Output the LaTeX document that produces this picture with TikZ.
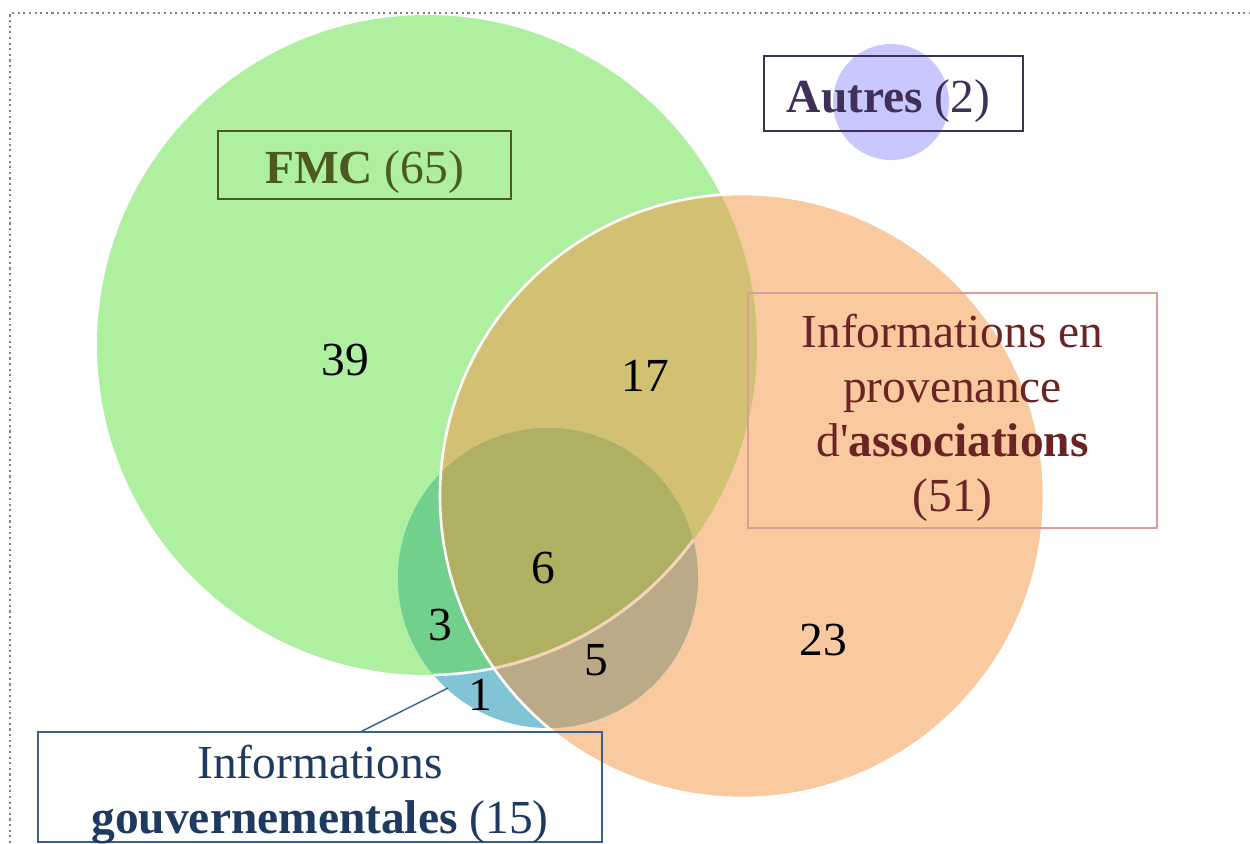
\documentclass[tikz,border=0pt]{standalone}
\usepackage{fontspec}
\setmainfont{Liberation Serif}
\usetikzlibrary{positioning}

\definecolor{fmcfill}{HTML}{AFEFA0}
\definecolor{assofill}{HTML}{F9C9A0}
\definecolor{govfill}{HTML}{80C4D6}
\definecolor{fmcasso}{HTML}{D2C172}
\definecolor{fmcgov}{HTML}{70D08C}
\definecolor{assogov}{HTML}{BBAA88}
\definecolor{allthree}{HTML}{B0B062}
\definecolor{peach}{HTML}{F8D2B4}
\definecolor{autrefill}{HTML}{C8C8FF}
\definecolor{fmctext}{HTML}{4A5A22}
\definecolor{autretext}{HTML}{3F3058}
\definecolor{assotext}{HTML}{6B2424}
\definecolor{assoline}{HTML}{DC9C9C}
\definecolor{govtext}{HTML}{1F3A60}
\definecolor{govline}{HTML}{3A6090}

\begin{document}
\begin{tikzpicture}[x=0.02cm,y=-0.02cm,
    num/.style={font=\fontsize{27}{31}\selectfont},
    lblbox/.style={draw,line width=1pt,inner sep=0pt},
    lbltext/.style={align=center,inner sep=0pt,font=\fontsize{27}{31}\selectfont}]
            \useasboundingbox (0,0) rectangle (1250,843);
            \draw[gray,dotted,line width=1.2pt] (10,843) -- (10,13) -- (1250,13);

            \coordinate (fmc) at (427,345);
            \coordinate (asso) at (742,496);
            \coordinate (gov) at (548,578);
            \coordinate (autre) at (891,102);

            % les ensembles
            \fill[fmcfill] (fmc) circle (330);
            \fill[assofill] (asso) circle (302);
            \fill[govfill] (gov) circle (150);
            \begin{scope}
                \clip (fmc) circle (330);
                \fill[fmcasso] (asso) circle (302);
                \fill[fmcgov] (gov) circle (150);
            \end{scope}
            \begin{scope}
                \clip (asso) circle (302);
                \fill[assogov] (gov) circle (150);
                \clip (fmc) circle (330);
                \fill[allthree] (gov) circle (150);
            \end{scope}
            \begin{scope}
                \clip (gov) circle (150);
                \draw[white,line width=1.5pt] (fmc) circle (330);
                \clip (asso) circle (302);
                \draw[peach,line width=1.5pt] (fmc) circle (330);
            \end{scope}
            \draw[white,line width=1.5pt] (asso) circle (302);
            \fill[autrefill] (autre) circle (58);

            % effectifs
            \node[num] (n39) at (345,360) {39};
            \node[num] (n17) at (645,376) {17};
            \node[num] (n6) at (543,568) {6};
            \node[num] (n3) at (440,625) {3};
            \node[num] (n5) at (596,660) {5};
            \node[num] (n1) at (480,695) {1};
            \node[num] (n23) at (823,640) {23};

            % etiquettes
            \node[lblbox,draw=fmctext,minimum width=5.86cm,minimum height=1.36cm] (fmcbox) at (364.5,165) {};
            \node[lbltext,text=fmctext] (fmclbl) at ([yshift=-0.15cm]fmcbox.center) {\textbf{FMC} (65)};

            \node[lblbox,draw=autretext,minimum width=5.18cm,minimum height=1.5cm] (autrebox) at (893.5,93.5) {};
            \node[lbltext,text=autretext] (autrelbl) at ([xshift=-0.1cm,yshift=-0.15cm]autrebox.center) {\textbf{Autres} (2)};

            \node[lblbox,draw=assoline,minimum width=8.18cm,minimum height=4.7cm] (assobox) at (952.5,410.5) {};
            \node[lbltext,text=assotext] (assolbl) at ([yshift=-0.15cm]assobox.center)
                {Informations en\\provenance\\d\textquotesingle\textbf{associations}\\(51)};

            \node[lblbox,draw=govline,minimum width=11.28cm,minimum height=2.2cm] (govbox) at (320,787) {};
            \node[lbltext,text=govtext] (govlbl) at ([yshift=-0.15cm]govbox.center)
                {Informations\\\textbf{gouvernementales} (15)};

            \coordinate (govpt) at (448,688);
            \draw[govline,line width=0.8pt] (govpt) -- ([xshift=0.84cm]govbox.north);
\end{tikzpicture}
\end{document}
